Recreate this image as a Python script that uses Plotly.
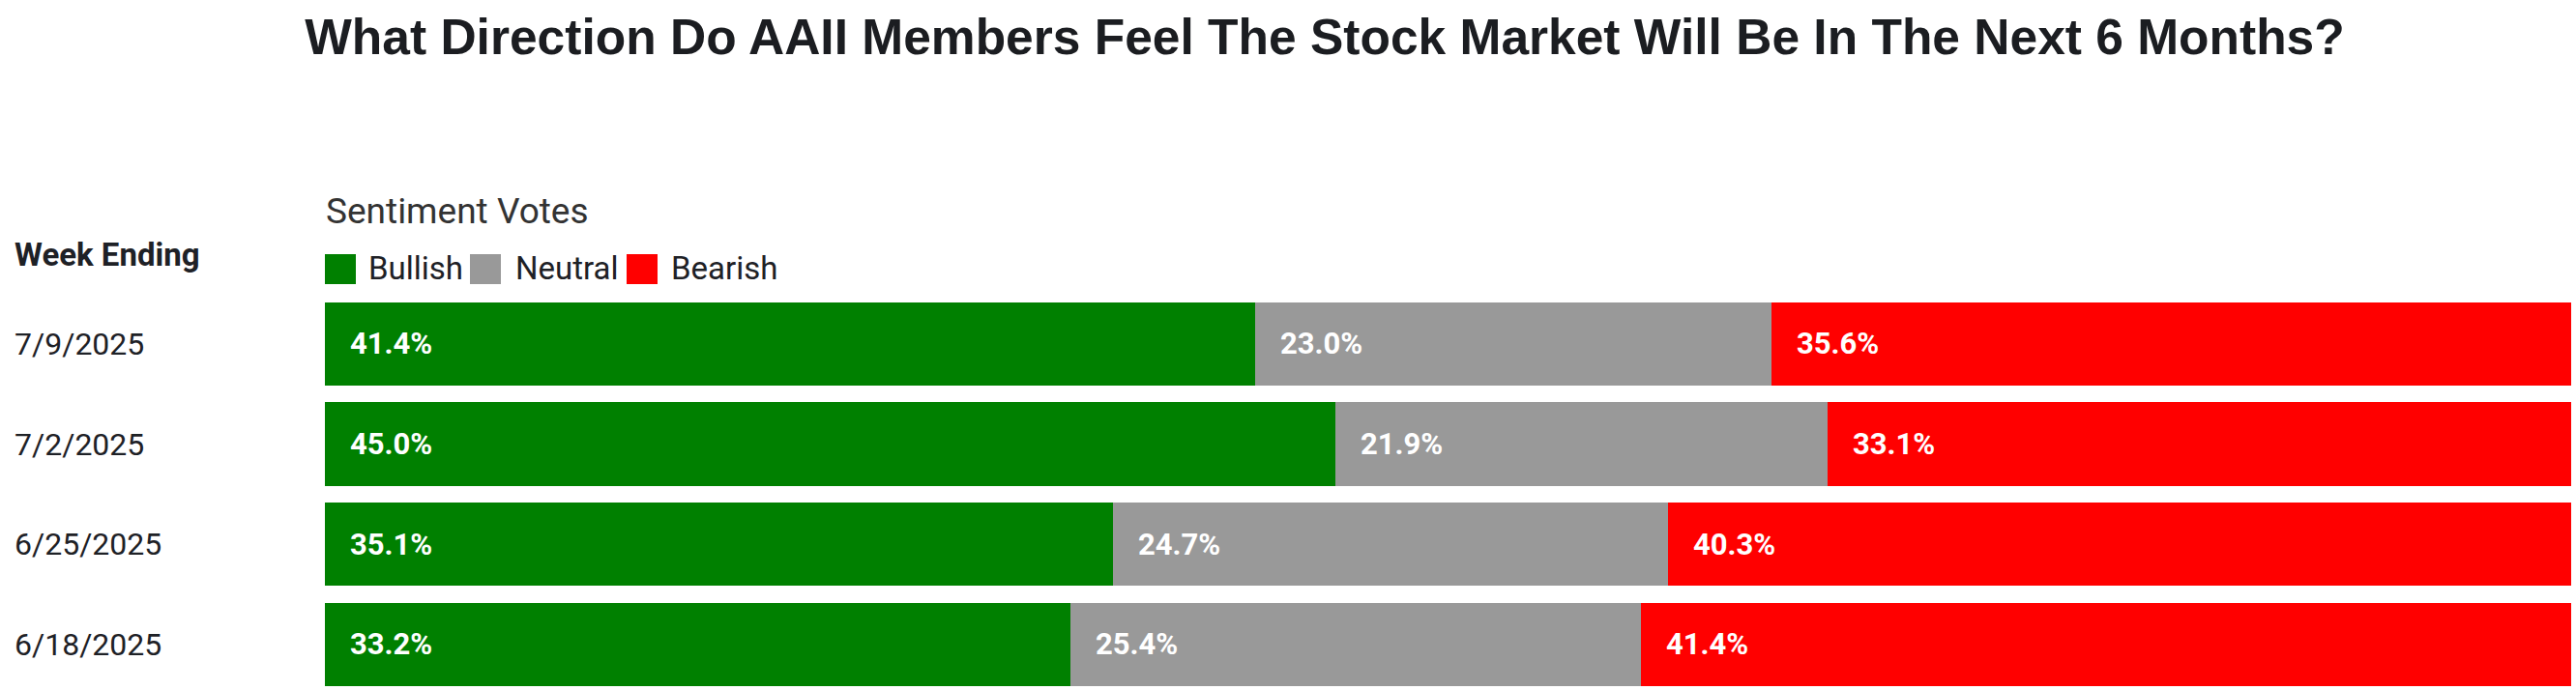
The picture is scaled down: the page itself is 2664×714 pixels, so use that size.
import plotly.graph_objects as go

# ---- data ----
weeks = ["7/9/2025", "7/2/2025", "6/25/2025", "6/18/2025"]
bullish = [41.4, 45.0, 35.1, 33.2]
neutral = [23.0, 21.9, 24.7, 25.4]
bearish = [35.6, 33.1, 40.3, 41.4]
series_names = ["Bullish", "Neutral", "Bearish"]
series_colors = ["#008000", "#999999", "#ff0000"]

title_text = "What Direction Do AAII Members Feel The Stock Market Will Be In The Next 6 Months?"

# ---- layout geometry (pixels) ----
W, H = 2664, 714
L, R, T, B = 336, 5, 304, 0
PW, PH = W - L - R, H - T - B


def px(x):
    return (x - L) / PW


def py(y):
    return (H - B - y) / PH


pitch = 103.7
y_bottom = -0.5 + PH / pitch

TXT = "Roboto, 'Noto Sans', sans-serif"
DARK = "#1e2126"

fig = go.Figure()
series = [bullish, neutral, bearish]
for name, vals, col in zip(series_names, series, series_colors):
    fig.add_trace(go.Bar(
        y=weeks, x=vals, name=name, orientation="h",
        marker=dict(color=col, line=dict(width=0)),
        width=0.834, showlegend=False, hoverinfo="x+y+name",
    ))

annotations = []
# value labels inside each segment, anchored at the segment start
starts = [0.0] * len(weeks)
for vals in series:
    for i, (w, v) in enumerate(zip(weeks, vals)):
        annotations.append(dict(
            x=starts[i], y=w, xref="x", yref="y",
            text=f"{v:.1f}%", showarrow=False,
            xanchor="left", yanchor="middle", xshift=24,
            font=dict(family=TXT, size=31, color="white", weight="bold"),
        ))
        starts[i] += v

# week labels (left aligned)
for w in weeks:
    annotations.append(dict(
        x=px(13), y=w, xref="paper", yref="y", text=w, showarrow=False,
        xanchor="left", yanchor="middle",
        font=dict(family=TXT, size=32, color=DARK),
    ))

annotations.append(dict(
    x=px(13), y=py(264), xref="paper", yref="paper", text="Week Ending",
    showarrow=False, xanchor="left", yanchor="middle",
    font=dict(family=TXT, size=33, color=DARK, weight="bold"),
))
annotations.append(dict(
    x=px(335), y=py(218), xref="paper", yref="paper", text="Sentiment Votes",
    showarrow=False, xanchor="left", yanchor="middle",
    font=dict(family=TXT, size=37, color="#333333"),
))

# custom legend
shapes = []
sq_x = [336, 486, 648]
txt_x = [379, 531, 692]
for name, col, sx, tx in zip(series_names, series_colors, sq_x, txt_x):
    shapes.append(dict(
        type="rect", xref="paper", yref="paper",
        x0=px(sx), x1=px(sx + 32), y0=py(294), y1=py(263),
        fillcolor=col, line=dict(width=0),
    ))
    annotations.append(dict(
        x=px(tx), y=py(277), xref="paper", yref="paper", text=name,
        showarrow=False, xanchor="left", yanchor="middle",
        font=dict(family=TXT, size=33, color=DARK),
    ))

fig.update_layout(
    width=W, height=H,
    margin=dict(l=L, r=R, t=T, b=B, pad=0),
    barmode="stack",
    plot_bgcolor="white", paper_bgcolor="white",
    title=dict(
        text=title_text, x=1370 / W, xanchor="center",
        y=1 - 38 / H, yanchor="middle", yref="container",
        font=dict(family="'Liberation Sans', Arial, sans-serif", size=51.5,
                  color="#1b1d21", weight="bold"),
    ),
    xaxis=dict(range=[0, 100], visible=False, fixedrange=True),
    yaxis=dict(
        type="category", categoryorder="array", categoryarray=weeks,
        range=[y_bottom, -0.5], showticklabels=False, showgrid=False,
        zeroline=False, showline=False, ticks="", fixedrange=True,
    ),
    annotations=annotations,
    shapes=shapes,
    showlegend=False,
)

fig.write_html(
    "out.html",
    config={"displayModeBar": False},
    post_script="document.body.style.margin='0';document.body.style.overflow='hidden';",
)
